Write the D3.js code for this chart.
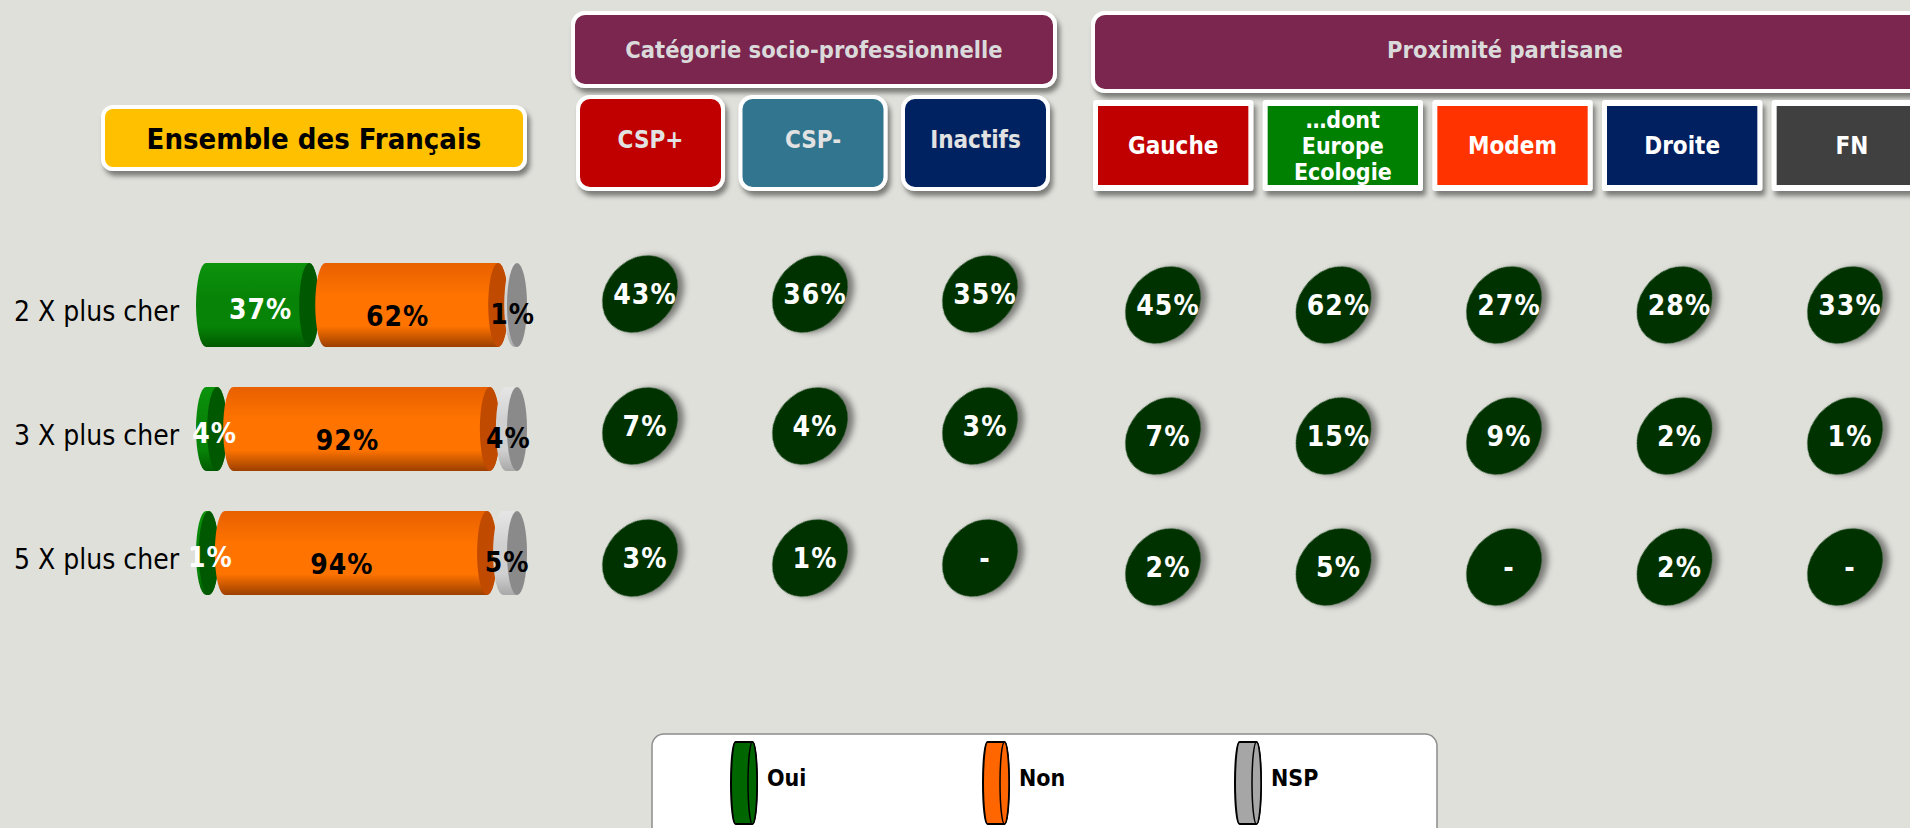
<!DOCTYPE html>
<html><head><meta charset="utf-8">
<script src="https://cdn.jsdelivr.net/npm/d3@7"></script>
<style>
html,body{margin:0;padding:0;background:#E0E0DB;overflow:hidden}
svg{display:block}
text{font-family:"DejaVu Sans Condensed","DejaVu Sans",sans-serif}
</style></head><body>
<svg id="chart" width="1910" height="828"></svg>
<script>
// ---------- DATA ----------
const rows = ["2 X plus cher", "3 X plus cher", "5 X plus cher"];
const series = ["Oui", "Non", "NSP"];
const oui = [37, 4, 1];
const non = [62, 92, 94];
const nsp = [1, 4, 5];

const totalLabel = "Ensemble des Français";
const groupTitles = ["Catégorie socio-professionnelle", "Proximité partisane"];
const cspCats = ["CSP+", "CSP-", "Inactifs"];
const partisanCats = ["Gauche", "…dont Europe Ecologie", "Modem", "Droite", "FN"];
const partisanLines = [["Gauche"], ["…dont", "Europe", "Ecologie"], ["Modem"], ["Droite"], ["FN"]];

// "Oui" share per column, rows in order (null = "-")
const cspValues = [
  [43, 7, 3],    // CSP+
  [36, 4, 1],    // CSP-
  [35, 3, null]  // Inactifs
];
const partisanValues = [
  [45, 7, 2],      // Gauche
  [62, 15, 5],     // ...dont Europe Ecologie
  [27, 9, null],   // Modem
  [28, 2, 2],      // Droite
  [33, 1, null]    // FN
];

// ---------- STYLE ----------
const cspColors = ["#C00000", "#31758F", "#002060"];
const partisanColors = ["#C00000", "#008000", "#FF3300", "#002060", "#404040"];
const seriesStyle = {
  Oui: {top: "#0C930C", mid: "#078407", bot: "#005A00", face: "#005800", label: "#FFFFFF", dx: 3, dy: 14, legend: "#006600"},
  Non: {top: "#E86000", mid: "#FF7400", bot: "#9C3F00", face: "#BF4A00", label: "#000000", dx: -14, dy: 21, legend: "#FF6600"},
  NSP: {top: "#E6E6E6", mid: "#D0D0D0", bot: "#A8A8A8", face: "#8A8A8A", label: "#000000", dx: -3, dy: 19, legend: "#A6A6A6"}
};
const purple = "#7A2850";

const svg = d3.select("#chart");
const defs = svg.append("defs");
const f = defs.append("filter").attr("id", "shadow").attr("x", "-20%").attr("y", "-20%").attr("width", "150%").attr("height", "160%");
f.append("feDropShadow").attr("dx", 3).attr("dy", 5).attr("stdDeviation", 2.5).attr("flood-color", "#000").attr("flood-opacity", 0.45);
const f2 = defs.append("filter").attr("id", "shadowS").attr("x", "-30%").attr("y", "-30%").attr("width", "170%").attr("height", "170%");
f2.append("feDropShadow").attr("dx", 4).attr("dy", 5).attr("stdDeviation", 3).attr("flood-color", "#000").attr("flood-opacity", 0.45);

series.forEach(s => {
  const st = seriesStyle[s];
  const lg = defs.append("linearGradient").attr("id", "g" + s).attr("x1", 0).attr("y1", 0).attr("x2", 0).attr("y2", 1);
  lg.append("stop").attr("offset", "0").attr("stop-color", st.top);
  lg.append("stop").attr("offset", "0.4").attr("stop-color", st.mid);
  lg.append("stop").attr("offset", "0.75").attr("stop-color", st.mid);
  lg.append("stop").attr("offset", "1").attr("stop-color", st.bot);
});

// ---------- TOTAL BOX ----------
svg.append("rect").attr("x", 103).attr("y", 107).attr("width", 422).attr("height", 62)
  .attr("rx", 10).attr("fill", "#FFC000").attr("stroke", "#fff").attr("stroke-width", 4).attr("filter", "url(#shadow)");
svg.append("text").attr("x", 314).attr("y", 139).attr("dy", "0.35em").attr("text-anchor", "middle")
  .attr("font-size", 29).attr("font-weight", "bold").attr("fill", "#000").text(totalLabel);

// ---------- GROUP HEADERS ----------
svg.append("rect").attr("x", 573).attr("y", 13).attr("width", 482).attr("height", 73)
  .attr("rx", 12).attr("fill", purple).attr("stroke", "#fff").attr("stroke-width", 4).attr("filter", "url(#shadow)");
svg.append("text").attr("x", 814).attr("y", 50).attr("dy", "0.35em").attr("text-anchor", "middle")
  .attr("font-size", 23.5).attr("font-weight", "bold").attr("fill", "#DADADA").text(groupTitles[0]);
svg.append("rect").attr("x", 1093).attr("y", 13).attr("width", 860).attr("height", 78)
  .attr("rx", 12).attr("fill", purple).attr("stroke", "#fff").attr("stroke-width", 4).attr("filter", "url(#shadow)");
svg.append("text").attr("x", 1505).attr("y", 50).attr("dy", "0.35em").attr("text-anchor", "middle")
  .attr("font-size", 23.5).attr("font-weight", "bold").attr("fill", "#DADADA").text(groupTitles[1]);

// CSP sub boxes
const cspBand = d3.scaleBand().domain(cspCats).range([576, 1050]).paddingInner(0.083);
cspCats.forEach((c, i) => {
  const x = cspBand(c), w = cspBand.bandwidth();
  svg.append("rect").attr("x", x + 2).attr("y", 97).attr("width", w - 4).attr("height", 92)
    .attr("rx", 12).attr("fill", cspColors[i]).attr("stroke", "#fff").attr("stroke-width", 4).attr("filter", "url(#shadow)");
  svg.append("text").attr("x", x + w / 2).attr("y", 140).attr("dy", "0.35em").attr("text-anchor", "middle")
    .attr("font-size", 24).attr("font-weight", "bold").attr("fill", "#E2E2E2").text(c);
});

// Partisan sub boxes
const partBand = d3.scaleBand().domain(partisanCats).range([1093, 1932]).paddingInner(0.055);
partisanCats.forEach((c, i) => {
  const x = partBand(c), w = partBand.bandwidth();
  svg.append("rect").attr("x", x).attr("y", 100).attr("width", w).attr("height", 91)
    .attr("rx", 3).attr("fill", "#fff").attr("filter", "url(#shadow)");
  svg.append("rect").attr("x", x + 5).attr("y", 106).attr("width", w - 10).attr("height", 79)
    .attr("fill", partisanColors[i]);
  const lines = partisanLines[i];
  const fs = lines.length > 1 ? 23 : 24;
  const lh = 26;
  lines.forEach((ln, k) => {
    svg.append("text").attr("x", x + w / 2).attr("y", 146 + (k - (lines.length - 1) / 2) * lh)
      .attr("dy", "0.35em").attr("text-anchor", "middle")
      .attr("font-size", fs).attr("font-weight", "bold").attr("fill", "#fff").text(ln);
  });
});

// ---------- STACKED CYLINDER BARS ----------
const barX = d3.scaleLinear().domain([0, 100]).range([0, 279]);
const rowY = d3.scalePoint().domain(rows).range([305, 553]);
const barStart = 196, capR = 10, ry = 42, overlap = 4;
const valsBySeries = {Oui: oui, Non: non, NSP: nsp};
const labelLayer = [];

rows.forEach((r, i) => {
  const cy = rowY(r);
  svg.append("text").attr("x", 14).attr("y", cy + 16)
    .attr("font-size", 28).attr("fill", "#000").text(r);
  let xs = barStart;
  series.forEach(s => {
    const v = valsBySeries[s][i];
    const st = seriesStyle[s];
    const x0 = xs + capR, x1 = x0 + barX(v);
    const p = `M${x0},${cy - ry} L${x1},${cy - ry} A${capR},${ry} 0 0 1 ${x1},${cy + ry} L${x0},${cy + ry} A${capR},${ry} 0 0 1 ${x0},${cy - ry} Z`;
    svg.append("path").attr("d", p).attr("fill", `url(#g${s})`);
    svg.append("ellipse").attr("cx", x1).attr("cy", cy).attr("rx", capR).attr("ry", ry).attr("fill", st.face);
    labelLayer.push({x: (xs + x1 + capR) / 2 + st.dx, y: cy + st.dy, t: v + "%", c: st.label});
    xs = x1 + capR - overlap;
  });
});
labelLayer.forEach(d => {
  svg.append("text").attr("x", d.x).attr("y", d.y).attr("text-anchor", "middle")
    .attr("font-size", 28).attr("letter-spacing", 1).attr("font-weight", "bold").attr("fill", d.c).text(d.t);
});

// ---------- BUBBLES ----------
function bubbles(cats, values, xRange, yRange) {
  const bx = d3.scalePoint().domain(cats).range(xRange);
  const by = d3.scalePoint().domain(rows).range(yRange);
  cats.forEach((c, ci) => {
    rows.forEach((r, ri) => {
      const v = values[ci][ri];
      const x = bx(c), y = by(r);
      svg.append("ellipse").attr("rx", 42).attr("ry", 34)
        .attr("transform", `translate(${x},${y}) rotate(-48)`)
        .attr("fill", "#003300").attr("filter", "url(#shadowS)");
      svg.append("text").attr("x", x + 5).attr("y", y).attr("dy", "0.35em").attr("text-anchor", "middle")
        .attr("font-size", 28).attr("letter-spacing", 1).attr("font-weight", "bold").attr("fill", "#fff")
        .text(v == null ? "-" : v + "%");
    });
  });
}
bubbles(cspCats, cspValues, [640, 980], [294, 558]);
bubbles(partisanCats, partisanValues, [1163, 1845], [305, 567]);

// ---------- LEGEND ----------
svg.append("rect").attr("x", 652).attr("y", 734).attr("width", 785).attr("height", 120)
  .attr("rx", 12).attr("fill", "#fff").attr("stroke", "#8C8C8C").attr("stroke-width", 1.5);
const legX = d3.scalePoint().domain(series).range([731, 1235]);
series.forEach(s => {
  const L = legX(s), cy = 783, h = 41, r = 4.5;
  const x0 = L + r, x1 = L + 21.5;
  const p = `M${x0},${cy - h} L${x1},${cy - h} A${r},${h} 0 0 1 ${x1},${cy + h} L${x0},${cy + h} A${r},${h} 0 0 1 ${x0},${cy - h} Z`;
  svg.append("path").attr("d", p).attr("fill", seriesStyle[s].legend).attr("stroke", "#000").attr("stroke-width", 2);
  svg.append("ellipse").attr("cx", x1).attr("cy", cy).attr("rx", r).attr("ry", h)
    .attr("fill", seriesStyle[s].legend).attr("stroke", "#000").attr("stroke-width", 1.5);
  svg.append("text").attr("x", L + 36).attr("y", 778).attr("dy", "0.35em")
    .attr("font-size", 23).attr("font-weight", "bold").attr("fill", "#000").text(s);
});
</script>
</body></html>
